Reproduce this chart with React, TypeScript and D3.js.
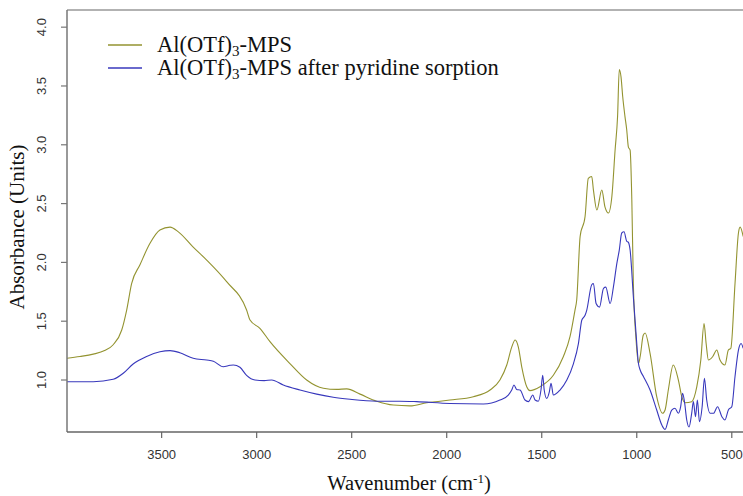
import React from "react";
import * as d3 from "d3";

const wnGreen = [4000,3930,3860,3800,3755,3710,3684,3658,3614,3562,3509,3456,3412,3334,3263,3158,3053,3035,2983,2930,2825,2737,2649,2579,2526,2456,2368,2281,2193,2105,2035,1983,1860,1772,1720,1684,1658,1640,1623,1605,1579,1562,1509,1439,1386,1351,1325,1316,1298,1272,1255,1237,1228,1210,1184,1167,1149,1131,1114,1101,1092,1083,1074,1062,1053,1044,1035,1026,1018,1004,991,982,966,956,930,895,864,851,834,808,781,763,746,711,684,663,646,635,623,600,579,562,536,518,505,483,465,456,440];
const absGreen = [1.185,1.2,1.22,1.25,1.3,1.425,1.595,1.82,1.98,2.16,2.275,2.3,2.26,2.13,2.02,1.836,1.595,1.51,1.44,1.326,1.14,1.0,0.93,0.92,0.925,0.88,0.82,0.787,0.78,0.807,0.82,0.83,0.858,0.915,1.0,1.128,1.28,1.34,1.28,1.11,0.943,0.91,0.943,1.04,1.2,1.37,1.595,1.68,2.22,2.39,2.715,2.73,2.615,2.445,2.615,2.47,2.42,2.56,2.955,3.24,3.64,3.58,3.41,3.24,3.13,2.98,2.955,2.53,1.82,1.35,1.14,1.2,1.38,1.4,1.227,0.858,0.717,0.745,0.915,1.128,1.0,0.858,0.807,0.816,0.943,1.17,1.48,1.31,1.17,1.2,1.255,1.17,1.128,1.255,1.27,1.82,2.25,2.3,2.22];

const wnBlue = [4000,3860,3755,3702,3650,3579,3509,3456,3404,3334,3263,3228,3176,3140,3123,3088,3053,3009,2960,2921,2860,2772,2684,2597,2509,2368,2246,2158,1983,1807,1720,1676,1658,1646,1632,1614,1588,1570,1547,1535,1518,1504,1495,1487,1474,1460,1451,1439,1404,1368,1333,1307,1289,1272,1263,1237,1228,1214,1196,1175,1163,1140,1123,1105,1092,1079,1067,1053,1044,1035,1018,1004,991,982,965,930,895,868,851,834,816,799,781,769,759,749,737,725,711,702,691,681,670,656,644,632,614,596,575,552,536,518,500,483,465,451,440];
const absBlue = [0.985,0.985,1.006,1.057,1.136,1.2,1.24,1.25,1.232,1.185,1.17,1.16,1.113,1.125,1.128,1.108,1.04,1.0,0.995,1.0,0.957,0.915,0.88,0.853,0.836,0.82,0.82,0.816,0.8,0.796,0.83,0.872,0.915,0.957,0.92,0.915,0.83,0.816,0.872,0.83,0.82,0.915,1.04,0.915,0.844,0.9,0.972,0.872,0.915,1.0,1.14,1.31,1.51,1.55,1.595,1.81,1.82,1.65,1.62,1.78,1.79,1.65,1.79,1.99,2.105,2.25,2.26,2.18,2.17,2.105,1.71,1.4,1.14,1.085,1.03,0.915,0.745,0.617,0.58,0.66,0.745,0.76,0.717,0.773,0.887,0.816,0.66,0.6,0.717,0.816,0.688,0.83,0.645,0.773,1.014,0.83,0.717,0.717,0.773,0.688,0.66,0.745,0.773,1.03,1.255,1.31,1.27];

const xTicks = [3500, 3000, 2500, 2000, 1500, 1000, 500];
const yTicks = [1.0, 1.5, 2.0, 2.5, 3.0, 3.5, 4.0];
const legendLabels = ["Al(OTf)", "Al(OTf)"];
const legendSuffix = ["-MPS", "-MPS after pyridine sorption"];
const colors = ["#939330", "#3838bc"];

const W = 743, H = 496;
const L = 67, R = 743, T = 10, B = 432;

export default function App() {
  const x = d3.scaleLinear().domain([3998, 441]).range([L, R]);
  const y = d3.scaleLinear().domain([0.558, 4.146]).range([B, T]);
  const line = d3.line<[number, number]>().x(d => x(d[0])).y(d => y(d[1])).curve(d3.curveMonotoneX);
  const g = line(wnGreen.map((w, i) => [w, absGreen[i]] as [number, number]));
  const b = line(wnBlue.map((w, i) => [w, absBlue[i]] as [number, number]));
  const sans = "'Liberation Sans', Arial, sans-serif";
  const serif = "'Liberation Serif', 'Times New Roman', serif";
  return (
    <svg width={W} height={H} style={{ position: "absolute", left: 0, top: 0, background: "#fff" }}>
      <defs>
        <clipPath id="plot"><rect x={L} y={T} width={R - L} height={B - T} /></clipPath>
      </defs>
      <rect x={0} y={0} width={W} height={H} fill="#fff" />
      <g clipPath="url(#plot)" fill="none" strokeWidth={1.1}>
        <path d={g || ""} stroke={colors[0]} />
        <path d={b || ""} stroke={colors[1]} />
      </g>
      <line x1={L} x2={R} y1={T} y2={T} stroke="#999" strokeWidth={1.5} />
      <line x1={L} x2={L} y1={T} y2={B} stroke="#777" strokeWidth={1.5} />
      <line x1={L} x2={R} y1={B} y2={B} stroke="#666" strokeWidth={1.5} />
      {xTicks.map(t => (
        <g key={t}>
          <line x1={x(t)} x2={x(t)} y1={B} y2={B + 6} stroke="#666" strokeWidth={1.2} />
          <text x={x(t)} y={459} textAnchor="middle" fontFamily={sans} fontSize={13} fill="#333">{t}</text>
        </g>
      ))}
      {yTicks.map(t => (
        <g key={t}>
          <line x1={L - 6} x2={L} y1={y(t)} y2={y(t)} stroke="#777" strokeWidth={1.2} />
          <text transform={`translate(46,${y(t)}) rotate(-90)`} textAnchor="middle" fontFamily={sans} fontSize={13} fill="#333">{t.toFixed(1)}</text>
        </g>
      ))}
      <text transform={`translate(24,${(T + B) / 2 + 6}) rotate(-90)`} textAnchor="middle" fontFamily={serif} fontSize={21} fill="#111">Absorbance (Units)</text>
      <text x={409} y={490} textAnchor="middle" fontFamily={serif} fontSize={20.5} fill="#111">
        Wavenumber (cm<tspan dy={-7} fontSize={13}>-1</tspan><tspan dy={7}>)</tspan>
      </text>
      {legendLabels.map((lab, i) => (
        <g key={i}>
          <line x1={108} x2={142} y1={45 + i * 23} y2={45 + i * 23} stroke={colors[i]} strokeWidth={1.6} />
          <text x={157} y={52 + i * 23} fontFamily={serif} fontSize={22.5} fill="#111">
            {lab}<tspan dy={4} fontSize={15}>3</tspan><tspan dy={-4}>{legendSuffix[i]}</tspan>
          </text>
        </g>
      ))}
    </svg>
  );
}
